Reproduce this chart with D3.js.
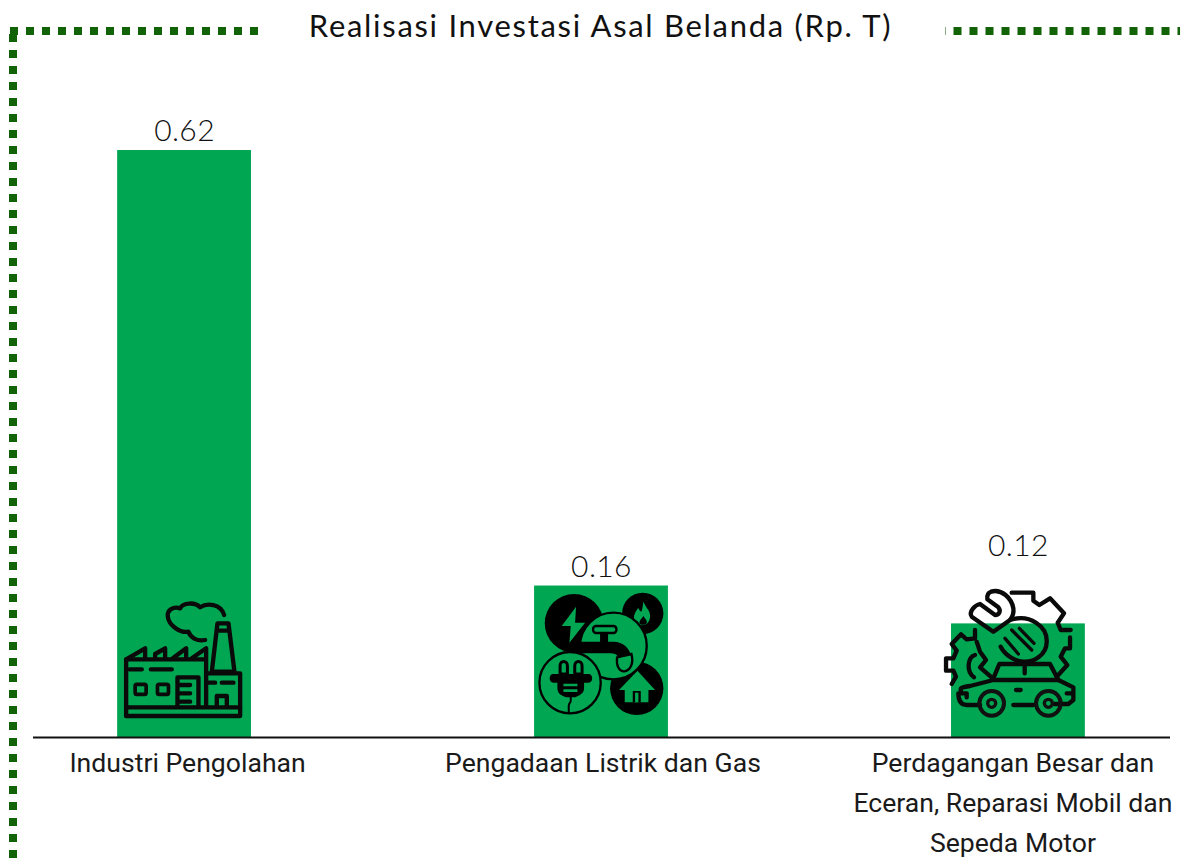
<!DOCTYPE html>
<html><head><meta charset="utf-8">
<script src="https://cdnjs.cloudflare.com/ajax/libs/d3/7.8.5/d3.min.js"></script>
<style>html,body{margin:0;padding:0;background:#fff;overflow:hidden}svg{display:block}</style>
</head><body><svg id="c" width="1180" height="864"></svg>
<script>
const categories = ["Industri Pengolahan","Pengadaan Listrik dan Gas","Perdagangan Besar dan Eceran, Reparasi Mobil dan Sepeda Motor"];
const values = [0.62,0.16,0.12];
const categoryLines = [["Industri Pengolahan"],["Pengadaan Listrik dan Gas"],["Perdagangan Besar dan","Eceran, Reparasi Mobil dan","Sepeda Motor"]];
const valueLabels = ["0.62","0.16","0.12"];
const chartTitle = "Realisasi Investasi Asal Belanda (Rp. T)";

const svg = d3.select("#c");
const x = d3.scaleBand().domain(categories).range([32.5,1169.5]).paddingInner(0.679).paddingOuter(0.203);
const y = d3.scaleLinear().domain([0,0.62]).range([737,150]);

// dotted frame
const G="#126307";
const frame=svg.append("g").attr("fill","none").attr("stroke",G).attr("stroke-width",8);
frame.append("line").attr("x1",10).attr("x2",258).attr("y1",31).attr("y2",31).attr("stroke-dasharray","8 8");
frame.append("line").attr("x1",945).attr("x2",1180).attr("y1",31).attr("y2",31).attr("stroke-dasharray","8 8").attr("stroke-dashoffset",7.5);
frame.append("line").attr("x1",13).attr("x2",13).attr("y1",34).attr("y2",864).attr("stroke-dasharray","8 8");

// bars
svg.append("g").selectAll("rect").data(categories).join("rect")
  .attr("x",d=>x(d)).attr("width",x.bandwidth())
  .attr("y",(d,i)=>y(values[i])).attr("height",(d,i)=>y(0)-y(values[i]))
  .attr("fill","#00a651");

// baseline
svg.append("g").attr("transform",`translate(0,${y(0)})`)
  .call(d3.axisBottom(x).tickSize(0).tickFormat(""))
  .call(g=>g.select(".domain").attr("stroke","#111").attr("stroke-width",2));

// icons
function iconGroup(i,ox,oy){
  return svg.append("g").attr("transform",`translate(${x(categories[i])},${y(0)}) scale(${1/3}) translate(${-ox},${-oy})`);
}
function st(g,d,w=13,c="#0a0a0a"){g.append("path").attr("d",d).attr("fill","none").attr("stroke",c).attr("stroke-width",w).attr("stroke-linecap","round").attr("stroke-linejoin","round");}

// factory
{const g=iconGroup(0,51,441);
 st(g,"M78 378V208L135 175V205M165 205V192L195 175V205M218 205L258 175V205M275 205L318 175V350");
 st(g,"M78 208H315");
 st(g,"M78 352H420V378H78");
 st(g,"M318 250H420V352");
 st(g,"M335 245L352 100H385L403 245H335M350 122H388");
 st(g,"M315 150C290 155 270 142 265 125C240 130 205 105 203 80C200 60 220 48 240 55C248 38 285 35 300 52C320 38 362 40 372 75");
 g.append("rect").attr("x",105).attr("y",283).attr("width",33).attr("height",30).attr("rx",5).attr("fill","none").attr("stroke","#0a0a0a").attr("stroke-width",11);
 g.append("rect").attr("x",172).attr("y",283).attr("width",33).attr("height",30).attr("rx",5).attr("fill","none").attr("stroke","#0a0a0a").attr("stroke-width",11);
 st(g,"M232 350V262H295V350M240 285H270M240 310H270M240 335H270");
 st(g,"M88 238H125M152 238H215M325 278H345M365 278H400M350 350V318H380V350");
}
// utilities
{const g=iconGroup(1,42,471);
 const k="#000", gr="#00a651";
 [[162,130,88],[368,100,62],[350,325,80]].forEach(c=>g.append("circle").attr("cx",c[0]).attr("cy",c[1]).attr("r",c[2]).attr("fill",k));
 g.append("path").attr("d","M168 80L125 138H152L148 188L195 128H165Z").attr("fill",gr);
 g.append("path").attr("d","M370 65C378 85 392 92 390 112C388 128 378 136 366 136C350 136 340 122 342 108C344 96 350 92 354 84C358 90 360 94 364 95C368 85 368 75 370 65Z").attr("fill",gr);
 g.append("path").attr("d","M370 108C376 118 382 122 380 128C376 136 360 136 358 128C358 120 366 116 370 108Z").attr("fill",k);
 g.append("path").attr("d","M352 272L405 330H385V367H314V330H297Z").attr("fill",gr);
 g.append("rect").attr("x",338).attr("y",333).attr("width",24).attr("height",34).attr("fill",k);
 g.append("rect").attr("x",345).attr("y",338).attr("width",10).attr("height",29).attr("fill",gr);
 g.append("circle").attr("cx",280).attr("cy",198).attr("r",100).attr("fill",gr).attr("stroke",k).attr("stroke-width",7);
 g.append("path").attr("d","M178 185H280C310 185 328 205 332 225L296 234C290 222 282 220 270 220H178Z").attr("fill",k);
 g.append("rect").attr("x",240).attr("y",155).attr("width",24).attr("height",35).attr("fill",k);
 g.append("rect").attr("x",219).attr("y",138).attr("width",70).attr("height",21).attr("rx",9).attr("fill",gr).attr("stroke",k).attr("stroke-width",7);
 g.append("path").attr("d","M291 232L334 222C342 250 330 272 312 274C296 274 288 255 291 232Z").attr("fill",gr).attr("stroke",k).attr("stroke-width",7);
 g.append("circle").attr("cx",150).attr("cy",308).attr("r",92).attr("fill",gr).attr("stroke",k).attr("stroke-width",7);
 g.append("path").attr("d","M120 282V258C120 240 142 240 142 258V282ZM164 282V258C164 240 186 240 186 258V282Z").attr("fill",gr).attr("stroke",k).attr("stroke-width",9);
 g.append("path").attr("d","M100 282H205C220 282 220 308 205 308H192V325C192 345 168 350 165 352H138C130 348 112 345 112 325V308H100C85 308 85 282 100 282Z").attr("fill",k);
 g.append("path").attr("d","M130 311H172V319H130ZM130 328H172V336H130Z").attr("fill",gr);
 st(g,"M152 352V362C152 368 146 370 146 378V398",6,k);
}
// tools + car
{const g=iconGroup(2,63,471);
 const c="#111";
 st(g,"M245 38H310V62L328 75L360 55L402 100L383 128L392 150H422");
 st(g,"M420 172V205H405L392 230L412 255L380 290");
 st(g,"M135 150V175L110 178L93 163L65 192L80 212L70 235H48V272H70L78 290L65 312");
 st(g,"M135 225C112 232 108 275 132 292");
 st(g,"M140 185L150 215L168 240L150 262L185 292");
 st(g,"M183 35C215 25 245 55 250 85C252 100 248 110 240 120L190 155L125 110C115 95 135 75 150 72L195 105C205 105 215 95 205 82L172 58C170 46 175 38 183 35Z");
 st(g,"M240 120C300 100 352 140 350 185C350 225 310 248 280 245C255 245 225 225 212 200");
 st(g,"M245 150L305 210M225 175L265 222M268 145L312 190",10);
 st(g,"M190 295L208 252H360L385 300M284 255V280");
 st(g,"M95 338C88 325 90 322 120 318L190 300H385L430 322V360L415 372H372M250 375H310M150 375H110C95 375 85 365 85 340H110V352M258 330H272M410 340H425");
 [[185,370],[355,370]].forEach(p=>{
   g.append("circle").attr("cx",p[0]).attr("cy",p[1]).attr("r",37).attr("fill","none").attr("stroke",c).attr("stroke-width",12);
   g.append("circle").attr("cx",p[0]).attr("cy",p[1]).attr("r",12).attr("fill","none").attr("stroke",c).attr("stroke-width",10);
 });
}

// value labels
svg.append("g").selectAll("text").data(categories).join("text")
  .attr("x",d=>x(d)+x.bandwidth()/2+0.5).attr("y",(d,i)=>[141,577,556][i])
  .attr("text-anchor","middle").attr("font-family","Lato").attr("font-weight",300).attr("font-size",30).attr("letter-spacing",0.4).attr("fill","#111")
  .text((d,i)=>valueLabels[i]);

// category labels
const labelShift=[3.5,2,-5];
const lab=svg.append("g").selectAll("text").data(categories).join("text")
  .attr("text-anchor","middle").attr("font-family","Roboto").attr("font-size",26.6).attr("fill","#1a1a1a");
lab.each(function(d,i){
  d3.select(this).selectAll("tspan").data(categoryLines[i]).join("tspan")
    .attr("x",x(d)+x.bandwidth()/2+labelShift[i]).attr("y",(l,j)=>772+j*40).text(l=>l);
});

// title
svg.append("text").attr("x",600.5).attr("y",37).attr("text-anchor","middle")
  .attr("font-family","Lato").attr("font-size",31).attr("letter-spacing",1.7).attr("fill","#111").text(chartTitle);
</script></body></html>
